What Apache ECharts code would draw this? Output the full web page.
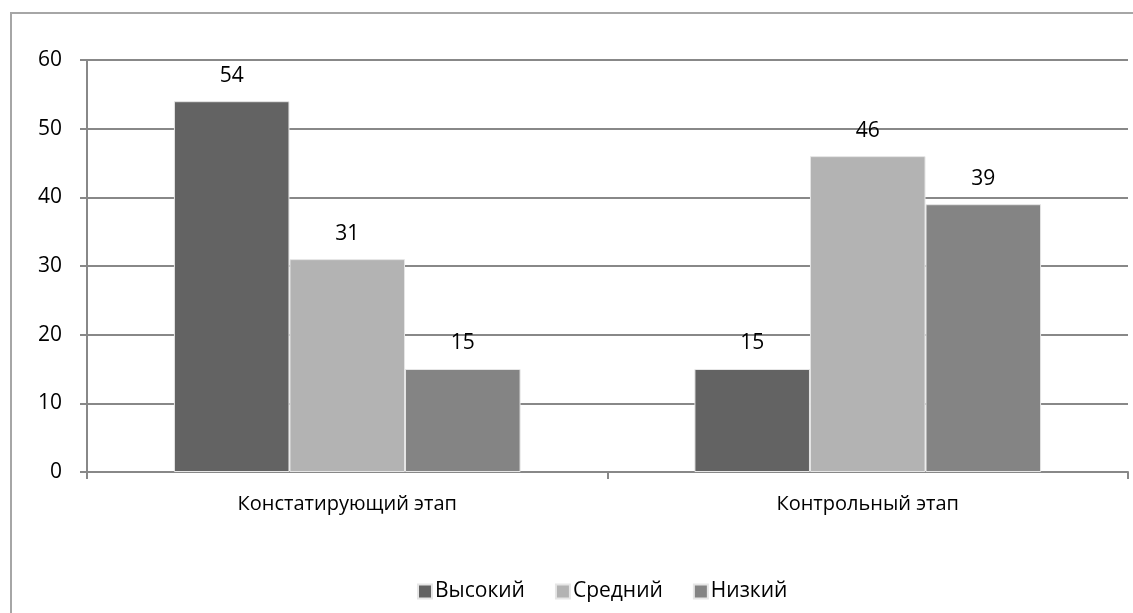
<!DOCTYPE html>
<html>
<head>
<meta charset="utf-8">
<script src="https://cdn.jsdelivr.net/npm/echarts@6/dist/echarts.min.js"></script>
<style>
  html, body { margin: 0; padding: 0; background: #fff; }
  #frame { position: absolute; left: 10px; top: 12px; width: 1140px; height: 620px;
           border: 2px solid #a6a6a6; box-sizing: border-box; }
  #chart { position: absolute; left: 0; top: 0; width: 1133px; height: 613px; }
</style>
</head>
<body>
<div id="frame"></div>
<div id="chart"></div>
<script>
const categories = ['Констатирующий этап', 'Контрольный этап'];
const seriesNames = ['Высокий', 'Средний', 'Низкий'];
const highValues = [54, 15];
const midValues = [31, 46];
const lowValues = [15, 39];
const yTicks = [0, 10, 20, 30, 40, 50, 60];

const colors = ['#636363', '#b3b3b3', '#848484'];
const font = "'Open Sans'";

const chart = echarts.init(document.getElementById('chart'));
const data = [highValues, midValues, lowValues];

chart.setOption({
  animation: false,
  textStyle: { fontFamily: font },
  grid: { left: 87, right: 5, top: 60, bottom: 141, containLabel: false },
  legend: {
    bottom: 6,
    left: 412,
    itemWidth: 14,
    itemHeight: 14,
    itemGap: 30,
    icon: 'rect',
    textStyle: { fontSize: 21, color: '#000', fontFamily: font, padding: [0, 0, 0, -2] },
    data: seriesNames
  },
  xAxis: {
    type: 'category',
    data: categories,
    axisLine: { lineStyle: { color: '#888', width: 2 } },
    axisTick: { show: true, length: 7, lineStyle: { color: '#888', width: 2 } },
    axisLabel: { fontSize: 20, color: '#000', margin: 22, fontFamily: font }
  },
  yAxis: {
    type: 'value',
    min: yTicks[0],
    max: yTicks[yTicks.length - 1],
    interval: 10,
    axisLine: { show: true, lineStyle: { color: '#888', width: 2 } },
    axisTick: { show: true, length: 7, lineStyle: { color: '#888', width: 2 } },
    splitLine: { lineStyle: { color: '#888', width: 2 } },
    axisLabel: { fontSize: 21, color: '#000', margin: 25, fontFamily: font }
  },
  series: seriesNames.map((name, i) => ({
    name: name,
    type: 'bar',
    data: data[i],
    barGap: '0%',
    barCategoryGap: '33.4%',
    itemStyle: { color: colors[i], borderColor: '#e6e6e6', borderWidth: 1 },
    label: { show: true, position: 'top', distance: 15, fontSize: 21, color: '#000', fontFamily: font }
  }))
});
</script>
</body>
</html>
